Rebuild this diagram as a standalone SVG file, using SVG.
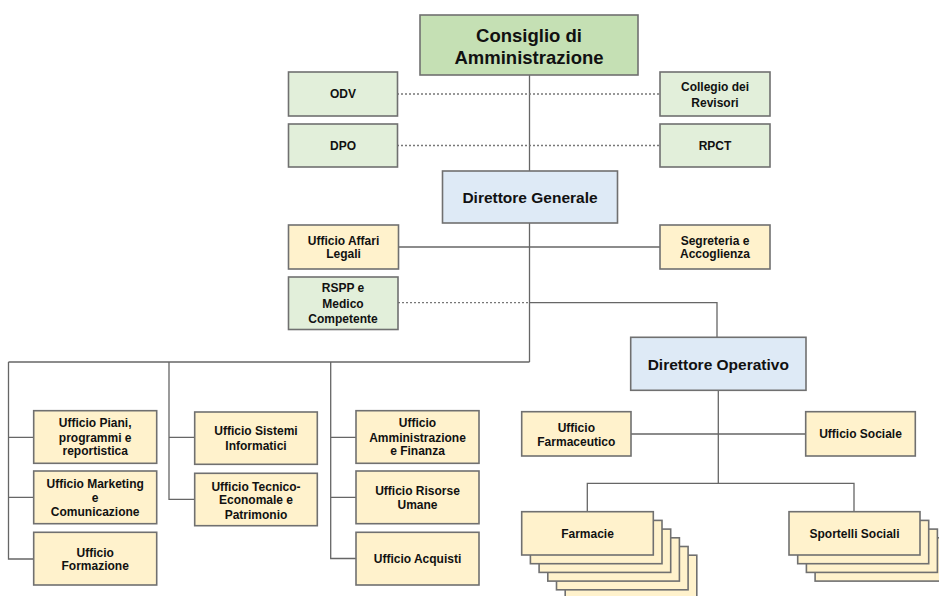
<svg xmlns="http://www.w3.org/2000/svg" width="939" height="596" viewBox="0 0 939 596">
<style>
.bx{stroke:#707070;stroke-width:1.6}
.g1{fill:#c5e0b4}
.g2{fill:#e2efda}
.bl{fill:#deeaf6}
.y{fill:#fff2cc}
.ln{stroke:#666;stroke-width:1.3;fill:none}
.dt{stroke:#777;stroke-width:1.3;stroke-dasharray:2 2;fill:none}
text{font-family:"Liberation Sans",Arial,sans-serif;font-weight:bold;fill:#111;text-anchor:middle;font-size:12px}
.big{font-size:18.5px}
.mid{font-size:15.5px}
</style>
<rect width="939" height="596" fill="#fff"/>
<g id="connectors">
<path class="ln" d="M529.5 75V171"/>
<path class="dt" d="M397 94H660"/>
<path class="dt" d="M397 145.5H660"/>
<path class="ln" d="M529.5 223V362"/>
<path class="ln" d="M398 247H660"/>
<path class="dt" d="M398 302.7H529.5"/>
<path class="ln" d="M529.5 302.7H717V337"/>
<path class="ln" d="M8.5 362H529.5"/>
<path class="ln" d="M8.5 362V559H33.7M8.5 437.3H33.7M8.5 497.3H33.7"/>
<path class="ln" d="M169 362V499.3H194.7M169 437.3H194.7"/>
<path class="ln" d="M330.7 362V558.5H356M330.7 437.3H356M330.7 497.3H356"/>
<path class="ln" d="M718.3 390V483.3M631 434H805.7"/>
<path class="ln" d="M587.3 511.7V483.3H854V511.7"/>
</g>
<g id="consiglio"><rect class="bx g1" x="420" y="15" width="218" height="60"/><text class="big" x="529" y="41.5">Consiglio di</text><text class="big" x="529" y="63.7">Amministrazione</text></g>
<g id="odv"><rect class="bx g2" x="288.5" y="72" width="109" height="44"/><text x="343" y="98.3">ODV</text></g>
<g id="dpo"><rect class="bx g2" x="288.5" y="124" width="109" height="43"/><text x="343" y="150">DPO</text></g>
<g id="collegio"><rect class="bx g2" x="660" y="72" width="110" height="44"/><text x="715" y="91.3">Collegio dei</text><text x="715" y="106.6">Revisori</text></g>
<g id="rpct"><rect class="bx g2" x="660" y="124" width="110" height="43"/><text x="715" y="150.3">RPCT</text></g>
<g id="dg"><rect class="bx bl" x="442.5" y="171" width="175" height="52"/><text class="mid" x="530" y="202.8">Direttore Generale</text></g>
<g id="affari"><rect class="bx y" x="288.5" y="225" width="110" height="44"/><text x="343.5" y="245">Ufficio Affari</text><text x="343.5" y="257.6">Legali</text></g>
<g id="segreteria"><rect class="bx y" x="660" y="225" width="110" height="44"/><text x="715" y="245">Segreteria e</text><text x="715" y="257.6">Accoglienza</text></g>
<g id="rspp"><rect class="bx g2" x="288.5" y="277" width="109.5" height="52.5"/><text x="343" y="291.6">RSPP e</text><text x="343" y="307.6">Medico</text><text x="343" y="323.3">Competente</text></g>
<g id="piani"><rect class="bx y" x="33.7" y="410.7" width="123" height="52.6"/><text x="95.2" y="427">Ufficio Piani,</text><text x="95.2" y="441.6">programmi e</text><text x="95.2" y="455.3">reportistica</text></g>
<g id="marketing"><rect class="bx y" x="33.7" y="471" width="123" height="52.7"/><text x="95.2" y="488.3">Ufficio Marketing</text><text x="95.2" y="502">e</text><text x="95.2" y="516.3">Comunicazione</text></g>
<g id="formazione"><rect class="bx y" x="33.7" y="532.3" width="123" height="52.7"/><text x="95.2" y="556.6">Ufficio</text><text x="95.2" y="570.3">Formazione</text></g>
<g id="sistemi"><rect class="bx y" x="194.7" y="412" width="122.6" height="52.3"/><text x="256" y="435.3">Ufficio Sistemi</text><text x="256" y="450.3">Informatici</text></g>
<g id="tecnico"><rect class="bx y" x="194.7" y="473.3" width="122.6" height="52.4"/><text x="256" y="491">Ufficio Tecnico-</text><text x="256" y="504.3">Economale e</text><text x="256" y="518.6">Patrimonio</text></g>
<g id="amministrazione"><rect class="bx y" x="356" y="410.7" width="123" height="52.6"/><text x="417.5" y="427">Ufficio</text><text x="417.5" y="442">Amministrazione</text><text x="417.5" y="455.3">e Finanza</text></g>
<g id="risorse"><rect class="bx y" x="356" y="471" width="123" height="52.7"/><text x="417.5" y="495">Ufficio Risorse</text><text x="417.5" y="509.3">Umane</text></g>
<g id="acquisti"><rect class="bx y" x="356" y="532.3" width="123" height="52.7"/><text x="417.5" y="563.3">Ufficio Acquisti</text></g>
<g id="do"><rect class="bx bl" x="630.7" y="337.3" width="175.3" height="53"/><text class="mid" x="718.3" y="370">Direttore Operativo</text></g>
<g id="farmaceutico"><rect class="bx y" x="521.7" y="411.7" width="109.3" height="44.3"/><text x="576.3" y="431.6">Ufficio</text><text x="576.3" y="446">Farmaceutico</text></g>
<g id="sociale"><rect class="bx y" x="805.7" y="411.7" width="109.6" height="44.3"/><text x="860.5" y="438.3">Ufficio Sociale</text></g>
<g id="farmacie">
<rect class="bx y" x="565.2" y="555.2" width="131.6" height="43.3"/>
<rect class="bx y" x="556.5" y="546.5" width="131.6" height="43.3"/>
<rect class="bx y" x="547.8" y="537.8" width="131.6" height="43.3"/>
<rect class="bx y" x="539.1" y="529.1" width="131.6" height="43.3"/>
<rect class="bx y" x="530.4" y="520.4" width="131.6" height="43.3"/>
<rect class="bx y" x="521.7" y="511.7" width="131.6" height="43.3"/>
<text x="587.5" y="537.6">Farmacie</text></g>
<g id="sportelli">
<rect class="bx y" x="815.1" y="537.8" width="131" height="43.3"/>
<rect class="bx y" x="806.4" y="529.1" width="131" height="43.3"/>
<rect class="bx y" x="797.7" y="520.4" width="131" height="43.3"/>
<rect class="bx y" x="789" y="511.7" width="131" height="43.3"/>
<text x="854.5" y="537.6">Sportelli Sociali</text></g>
</svg>
